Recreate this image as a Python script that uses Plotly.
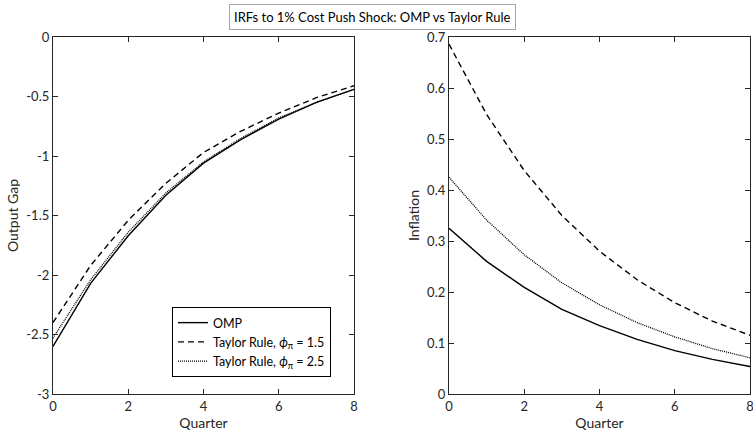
import plotly.graph_objects as go
from plotly.subplots import make_subplots

quarters = [0, 1, 2, 3, 4, 5, 6, 7, 8]

gap_omp = [-2.60, -2.07, -1.67, -1.33, -1.06, -0.86, -0.69, -0.55, -0.44]
gap_tr15 = [-2.40, -1.92, -1.54, -1.23, -0.97, -0.79, -0.64, -0.51, -0.41]
gap_tr25 = [-2.53, -2.04, -1.64, -1.31, -1.05, -0.85, -0.68, -0.55, -0.44]

inf_omp = [0.325, 0.260, 0.209, 0.166, 0.134, 0.107, 0.085, 0.068, 0.054]
inf_tr15 = [0.686, 0.548, 0.438, 0.350, 0.280, 0.224, 0.179, 0.143, 0.115]
inf_tr25 = [0.425, 0.341, 0.273, 0.218, 0.175, 0.140, 0.112, 0.089, 0.071]

series_names = ["OMP",
                "Taylor Rule, <i>\u03d5</i><sub>\u03c0</sub> = 1.5",
                "Taylor Rule, <i>\u03d5</i><sub>\u03c0</sub> = 2.5"]

x_tickvals = [0, 2, 4, 6, 8]
gap_tickvals = [0, -0.5, -1, -1.5, -2, -2.5, -3]
gap_ticktext = ["0", "-0.5", "-1", "-1.5", "-2", "-2.5", "-3"]
inf_tickvals = [0, 0.1, 0.2, 0.3, 0.4, 0.5, 0.6, 0.7]
inf_ticktext = ["0", "0.1", "0.2", "0.3", "0.4", "0.5", "0.6", "0.7"]

title_text = "IRFs to 1% Cost Push Shock: OMP vs Taylor Rule"

W, H = 753, 434
FONT = "Lato, 'Open Sans', sans-serif"
AX = "#262626"

fig = make_subplots(rows=1, cols=2)

styles = [dict(color="black", width=1.4, dash="solid"),
          dict(color="black", width=1.4, dash="6px,4px"),
          dict(color="black", width=1.3, dash="1px,1px")]

for i, (ys, name) in enumerate(zip([gap_omp, gap_tr15, gap_tr25], series_names)):
    fig.add_trace(go.Scatter(x=quarters, y=ys, mode="lines", name=name,
                             line=styles[i], showlegend=True), row=1, col=1)
for i, (ys, name) in enumerate(zip([inf_omp, inf_tr15, inf_tr25], series_names)):
    fig.add_trace(go.Scatter(x=quarters, y=ys, mode="lines", name=name,
                             line=styles[i], showlegend=False), row=1, col=2)

def px_x(p):
    return p / W

def px_y(p):
    return 1 - p / H

axis_common = dict(showline=True, linecolor=AX, linewidth=1.3, mirror="ticks",
                   ticks="inside", ticklen=5, tickwidth=1.2, tickcolor=AX,
                   showgrid=False, zeroline=False, ticklabeloverflow="allow",
                   tickfont=dict(family=FONT, size=13, color=AX),
                   title_font=dict(family=FONT, size=14, color=AX))

fig.update_xaxes(**axis_common, range=[0, 8], tickvals=x_tickvals,
                 ticktext=[str(v) for v in x_tickvals], title_text="Quarter",
                 title_standoff=4)
fig.update_xaxes(domain=[px_x(53), px_x(354)], row=1, col=1)
fig.update_xaxes(domain=[px_x(449), px_x(750)], row=1, col=2)

fig.update_yaxes(**axis_common)
fig.update_yaxes(domain=[px_y(394), px_y(37)])
fig.update_yaxes(range=[-3, 0], tickvals=gap_tickvals, ticktext=gap_ticktext,
                 title_text="Output Gap", title_standoff=4, row=1, col=1)
fig.update_yaxes(range=[0, 0.7], tickvals=inf_tickvals, ticktext=inf_ticktext,
                 title_text="Inflation", title_standoff=4, row=1, col=2)

fig.add_annotation(text=title_text, xref="paper", yref="paper",
                   x=px_x(372.5), y=px_y(17.5), xanchor="center", yanchor="middle",
                   showarrow=False, font=dict(family=FONT, size=13, color="black"),
                   bordercolor="#a6a6a6", borderwidth=1, borderpad=4, bgcolor="white")

fig.update_layout(
    width=W, height=H,
    margin=dict(l=0, r=0, t=0, b=0, autoexpand=False),
    paper_bgcolor="white", plot_bgcolor="white",
    legend=dict(x=px_x(172), y=px_y(307), xanchor="left", yanchor="top",
                bordercolor="black", borderwidth=1, bgcolor="white",
                font=dict(family=FONT, size=12.5, color="black"),
                tracegroupgap=0, itemwidth=30),
)

fig.write_html(
    "out.html",
    config={"displayModeBar": False},
    post_script=("document.documentElement.style.margin='0';"
                 "document.documentElement.style.overflow='hidden';"
                 "document.body.style.margin='0';"
                 "document.body.style.overflow='hidden';"),
)
